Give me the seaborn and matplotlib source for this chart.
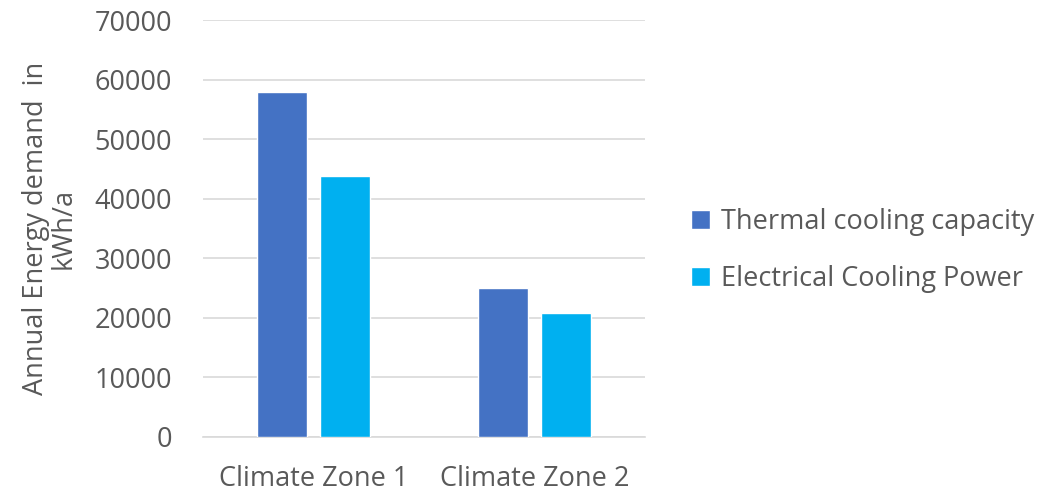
import pandas as pd
import matplotlib.pyplot as plt
import seaborn as sns

# Data
zones = ["Climate Zone 1", "Climate Zone 2"]
series = ["Thermal cooling capacity", "Electrical Cooling Power"]
thermal = [58000, 25000]
electrical = [43800, 20800]
colors = ["#4472C4", "#00B0F0"]

df = pd.DataFrame({
    "Zone": zones * 2,
    "Series": [series[0]] * 2 + [series[1]] * 2,
    "Value": thermal + electrical,
})

sns.set_style("white")
plt.rcParams['font.family'] = ['Open Sans', 'DejaVu Sans']
text_col = "#595959"
fs = 19.5

fig = plt.figure(figsize=(10.4, 4.93), dpi=100)
ax = fig.add_axes([0.195, 0.1136, 0.425, 0.8455])

sns.barplot(data=df, x="Zone", y="Value", hue="Series", palette=colors,
            width=0.566, gap=0.2, saturation=1, ax=ax, zorder=3)

ax.set_ylim(0, 70000)
ax.set_yticks(range(0, 70001, 10000))
ax.yaxis.grid(True, color="#d9d9d9", linewidth=1.2, zorder=0)
ax.set_axisbelow(True)
for s in ["top", "right", "left"]:
    ax.spines[s].set_visible(False)
ax.spines["bottom"].set_color("#d9d9d9")
ax.spines["bottom"].set_linewidth(1.2)
ax.tick_params(axis="y", length=0, labelsize=fs, colors=text_col, pad=22)
ax.tick_params(axis="x", length=0, labelsize=fs, colors=text_col, pad=20)
ax.set_xlabel("")
ax.set_ylabel("Annual Energy demand  in\nkWh/a", fontsize=fs, color=text_col,
              labelpad=12, linespacing=1.0)

ax.legend(loc="center left", bbox_to_anchor=(0.641, 0.492), bbox_transform=fig.transFigure,
          frameon=False, fontsize=19.5, labelcolor=text_col, handlelength=0.7,
          handleheight=0.7, handletextpad=0.4, labelspacing=1.1)

fig.savefig("out.png", dpi=100)
